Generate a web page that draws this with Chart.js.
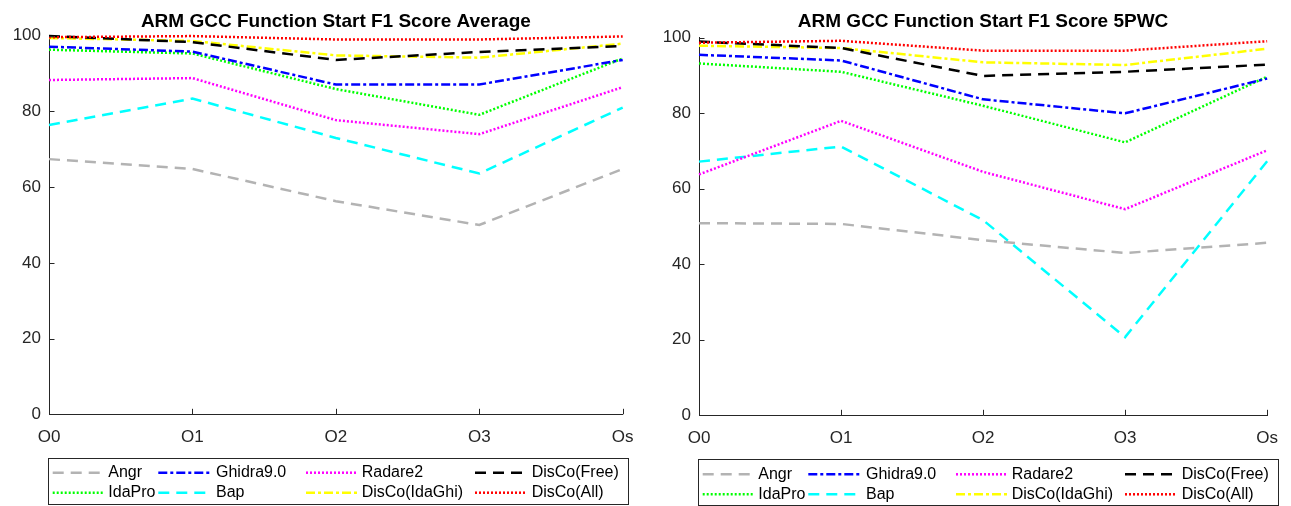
<!DOCTYPE html>
<html><head><meta charset="utf-8">
<script src="https://cdn.jsdelivr.net/npm/chart.js@4.4.1/dist/chart.umd.min.js"></script>
<style>
html,body{margin:0;padding:0;background:#fff;}
body{width:1291px;height:506px;position:relative;overflow:hidden;}
canvas{position:absolute;top:0;}
#c1{left:0;} #c2{left:650px;}
</style></head><body>
<canvas id="c1" width="650" height="506"></canvas>
<canvas id="c2" width="641" height="506"></canvas>
<script>
const categories = ['O0','O1','O2','O3','Os'];
const seriesNames = ['Angr','IdaPro','Ghidra9.0','Bap','Radare2','DisCo(IdaGhi)','DisCo(Free)','DisCo(All)'];
const yTicks = [0,20,40,60,80,100];

// ARM GCC Function Start F1 Score Average
const avgAngr        = [67.4, 64.8, 56.3, 50.0, 64.8];
const avgIdaPro      = [96.3, 95.3, 85.9, 79.1, 94.0];
const avgGhidra      = [97.1, 95.8, 87.1, 87.1, 93.6];
const avgBap         = [76.4, 83.4, 73.0, 63.6, 81.0];
const avgRadare2     = [88.3, 88.8, 77.7, 74.0, 86.4];
const avgDiscoIdaGhi = [99.4, 98.6, 94.8, 94.2, 97.9];
const avgDiscoFree   = [99.9, 98.3, 93.6, 95.7, 97.3];
const avgDiscoAll    = [99.6, 99.9, 99.0, 99.0, 99.8];

// ARM GCC Function Start F1 Score 5PWC
const pwcAngr        = [50.9, 50.7, 46.4, 43.0, 45.7];
const pwcIdaPro      = [93.2, 91.0, 82.0, 72.3, 89.7];
const pwcGhidra      = [95.5, 94.0, 83.7, 80.0, 89.2];
const pwcBap         = [67.2, 71.2, 51.7, 20.7, 67.3];
const pwcRadare2     = [63.8, 78.0, 64.5, 54.6, 70.2];
const pwcDiscoIdaGhi = [97.9, 97.3, 93.5, 92.8, 97.1];
const pwcDiscoFree   = [99.0, 97.3, 89.9, 91.0, 92.9];
const pwcDiscoAll    = [98.7, 99.2, 96.6, 96.6, 99.1];

const styles = [
  {color:'#b3b3b3', dash:[11,7]},
  {color:'#00ff00', dash:[2,2]},
  {color:'#0000ff', dash:[9,3,3,3]},
  {color:'#00ffff', dash:[11,7]},
  {color:'#ff00ff', dash:[2,2]},
  {color:'#ffff00', dash:[9,3,3,3]},
  {color:'#000000', dash:[11,7]},
  {color:'#ff0000', dash:[2,2]}
];
const FONT = '"Liberation Sans", Arial, Helvetica, sans-serif';
const AXIS = '#262626';
const LW = 2.5;

const decor = {
  id: 'decor',
  afterDraw(chart, args, o) {
    const ctx = chart.ctx, ca = chart.chartArea;
    const xs = chart.scales.x, ys = chart.scales.y;
    ctx.save();
    // inward tick marks
    ctx.strokeStyle = AXIS; ctx.lineWidth = 1; ctx.setLineDash([]);
    ctx.beginPath();
    categories.forEach((c, i) => {
      const px = Math.round(xs.getPixelForValue(i)) + 0.5;
      ctx.moveTo(px, ca.bottom); ctx.lineTo(px, ca.bottom - 5.5);
    });
    yTicks.forEach(v => {
      const py = Math.round(ys.getPixelForValue(v)) + 0.5;
      ctx.moveTo(ca.left, py); ctx.lineTo(ca.left + 5.5, py);
    });
    ctx.stroke();
    // title
    ctx.fillStyle = '#000';
    ctx.font = 'bold 19px ' + FONT;
    ctx.textAlign = 'center'; ctx.textBaseline = 'middle';
    ctx.fillText(o.title, (ca.left + ca.right) / 2, o.titleY);
    // legend box
    const L = ca.left, T = o.legendTop;
    ctx.fillStyle = '#fff';
    ctx.fillRect(L - 1.5, T, 580, 47);
    ctx.strokeStyle = AXIS; ctx.lineWidth = 1;
    ctx.strokeRect(Math.round(L - 1.5) + 0.5, Math.round(T) + 0.5, 580, 46);
    const lineOff = [3.7, 109.3, 257, 426];
    const textOff = [59.3, 167, 312.7, 482.7];
    const rowY = [T + 15, T + 35];
    ctx.font = '16px ' + FONT;
    ctx.textAlign = 'left'; ctx.textBaseline = 'middle';
    for (let c = 0; c < 4; c++) {
      for (let r = 0; r < 2; r++) {
        const idx = c * 2 + r;
        const ds = chart.data.datasets[idx];
        ctx.strokeStyle = ds.borderColor; ctx.lineWidth = LW;
        ctx.setLineDash(ds.borderDash);
        ctx.beginPath();
        ctx.moveTo(L + lineOff[c], rowY[r]); ctx.lineTo(L + lineOff[c] + 51, rowY[r]);
        ctx.stroke();
        ctx.setLineDash([]);
        ctx.fillStyle = '#000';
        ctx.fillText(ds.label, L + textOff[c], rowY[r]);
      }
    }
    ctx.restore();
  }
};

function makeChart(id, title, series, lay) {
  const datasets = series.map((vals, i) => ({
    label: seriesNames[i],
    data: vals,
    borderColor: styles[i].color,
    backgroundColor: styles[i].color,
    borderDash: styles[i].dash,
    borderWidth: LW,
    pointRadius: 0,
    tension: 0,
    fill: false,
    clip: false,
    order: series.length - i
  }));
  return new Chart(document.getElementById(id), {
    type: 'line',
    data: { labels: categories, datasets },
    plugins: [decor],
    options: {
      responsive: false,
      animation: false,
      devicePixelRatio: 1,
      events: [],
      layout: { padding: { top: lay.top, bottom: lay.bottom, left: 0, right: lay.right } },
      plugins: {
        legend: { display: false },
        title: { display: false },
        tooltip: { enabled: false },
        decor: { title: title, titleY: lay.titleY, legendTop: lay.legendTop }
      },
      scales: {
        x: {
          offset: false,
          grid: { display: false, drawTicks: false },
          border: { display: true, color: AXIS, width: 1 },
          ticks: { color: AXIS, font: { family: FONT, size: 17 }, padding: 13, maxRotation: 0, autoSkip: false },
          afterFit(s) { s.height = 40; }
        },
        y: {
          min: 0, max: 100,
          grid: { display: false, drawTicks: false },
          border: { display: true, color: AXIS, width: 1 },
          afterBuildTicks(s) { s.ticks = yTicks.map(v => ({ value: v })); },
          ticks: { color: AXIS, font: { family: FONT, size: 17 }, padding: 8 },
          afterFit(s) { s.width = 49; }
        }
      }
    }
  });
}

makeChart('c1', 'ARM GCC Function Start F1 Score Average',
  [avgAngr, avgIdaPro, avgGhidra, avgBap, avgRadare2, avgDiscoIdaGhi, avgDiscoFree, avgDiscoAll],
  { top: 35.7, bottom: 51.7, right: 27.3, titleY: 21.7, legendTop: 457.7 });
makeChart('c2', 'ARM GCC Function Start F1 Score 5PWC',
  [pwcAngr, pwcIdaPro, pwcGhidra, pwcBap, pwcRadare2, pwcDiscoIdaGhi, pwcDiscoFree, pwcDiscoAll],
  { top: 37.8, bottom: 50.7, right: 18.3, titleY: 22.2, legendTop: 459.3 });
</script>
</body></html>
